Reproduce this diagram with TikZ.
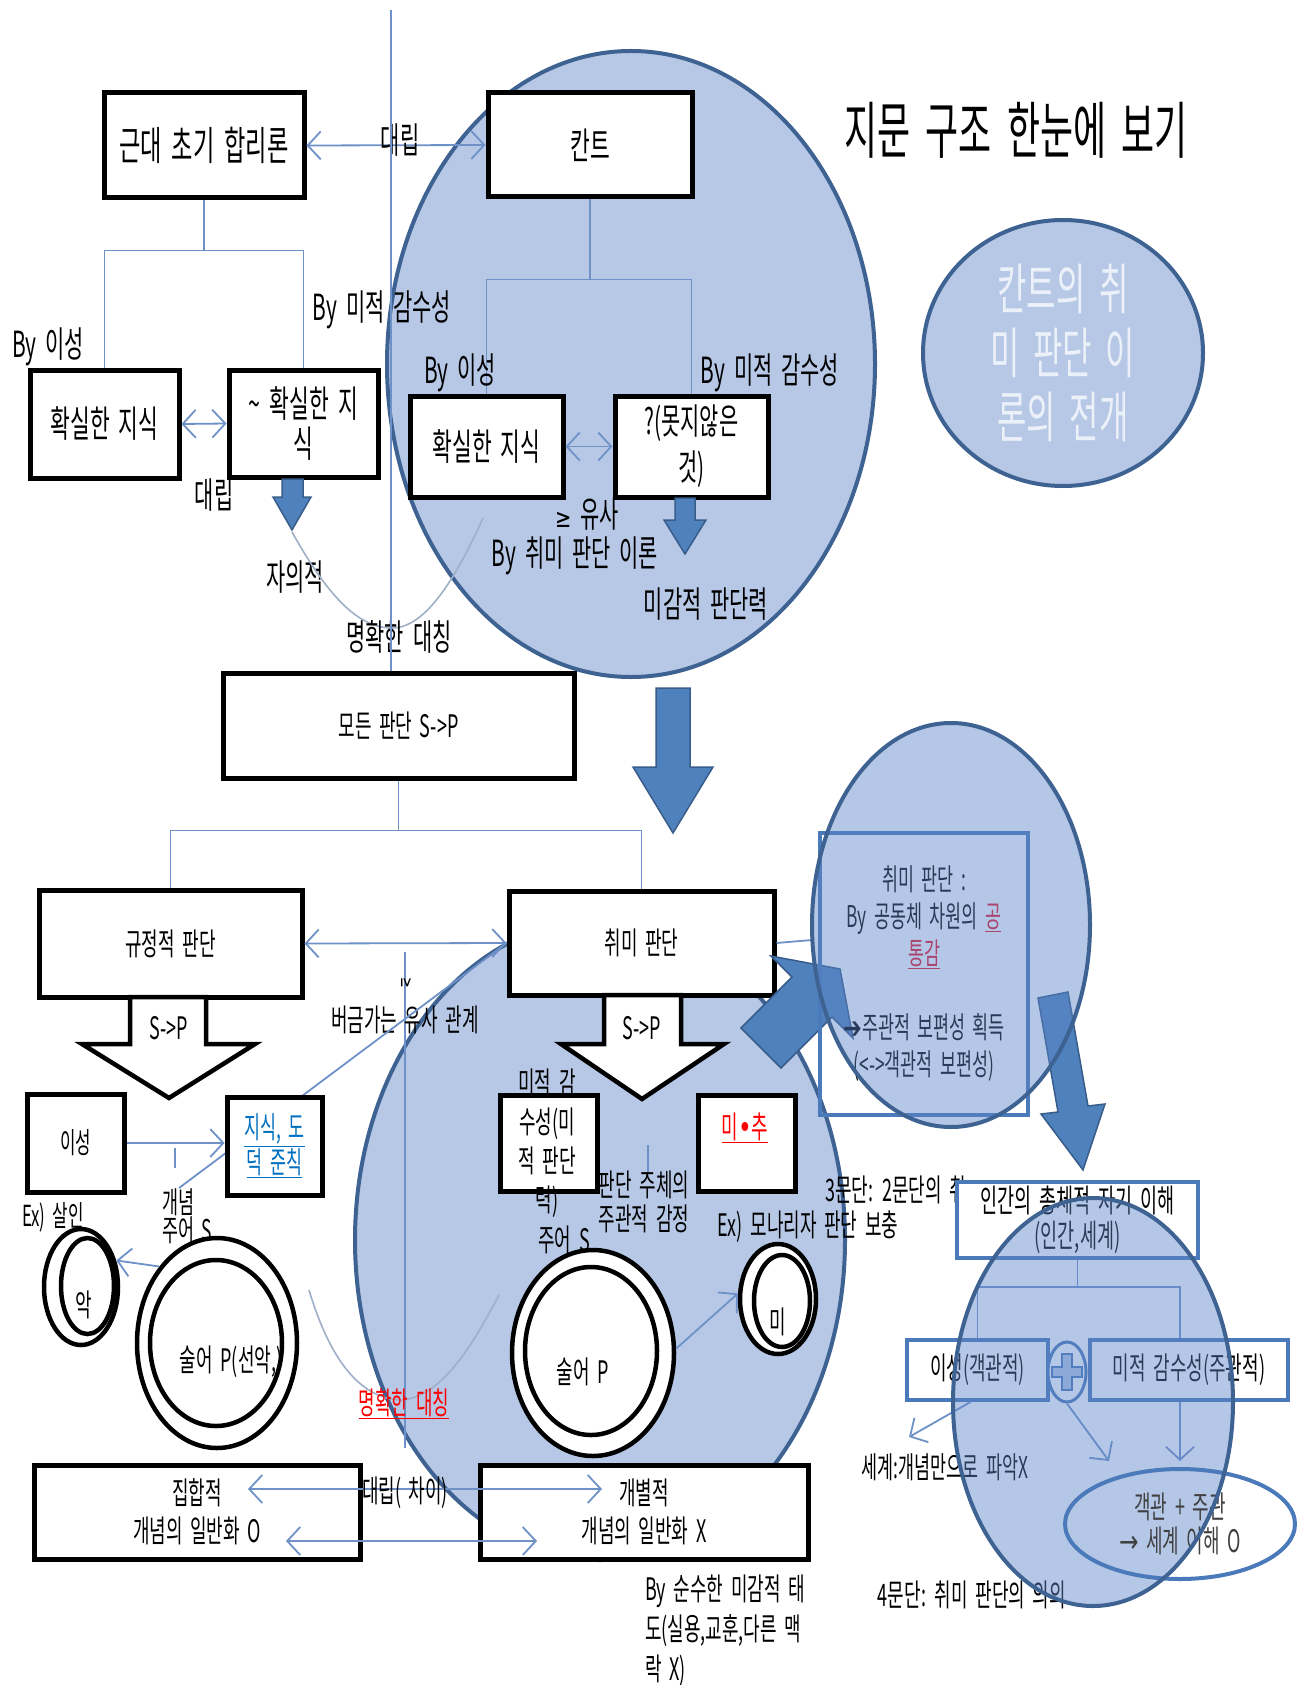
\documentclass[tikz,border=0pt]{standalone}
\usepackage{fontspec}
\setmainfont{Noto Sans CJK KR}[FakeStretch=0.58, WordSpace=1.9]
\newfontfamily\djv{DejaVu Sans}[FakeStretch=0.75]
\usetikzlibrary{arrows.meta,shapes.geometric,calc}
\definecolor{circfill}{RGB}{182,200,230}
\definecolor{circedge}{RGB}{62,98,146}
\definecolor{semifill}{RGB}{93,133,200}
\definecolor{lineblue}{RGB}{110,145,200}
\definecolor{curvegray}{RGB}{160,175,200}
\definecolor{boxblue}{RGB}{74,122,186}
\definecolor{arrfill}{RGB}{79,129,189}
\definecolor{arredge}{RGB}{56,93,138}
\definecolor{linkblue}{RGB}{0,112,192}
\definecolor{crim}{RGB}{230,20,40}
\definecolor{darkg}{RGB}{64,64,64}
\definecolor{whiteish}{RGB}{236,241,249}
\newcommand{\szT}{\fontsize{62}{72}\selectfont}
\newcommand{\szC}{\fontsize{55}{64}\selectfont}
\newcommand{\szB}{\fontsize{40}{44}\selectfont}
\newcommand{\szL}{\fontsize{36}{42}\selectfont}
\newcommand{\szM}{\fontsize{31}{38}\selectfont}
\begin{document}
\begin{tikzpicture}[x=1pt,y=-1pt,
  >={Straight Barb[length=13pt,width=28pt]},
  bbox/.style={draw=black, line width=5pt, fill=white, inner sep=0pt, align=center, font=\szM},
  bluebox/.style={draw=boxblue, line width=4pt, fill=white, inner sep=0pt, align=center, font=\szM},
  lbl/.style={inner sep=0pt, align=center, font=\szM},
  lblL/.style={inner sep=0pt, align=center, font=\szL},
  conn/.style={draw=lineblue, line width=1.8pt},
  curv/.style={draw=curvegray, line width=1.6pt},
  bigarrow/.style={fill=arrfill, draw=arredge, line width=1.5pt, line join=miter},
  blockarrow/.style={fill=white, draw=black, line width=4.5pt, line join=miter},
  bigcirc/.style={ellipse, draw=circedge, line width=4pt, fill=circfill, inner sep=0pt},
  ring/.style={ellipse, draw=black, line width=4.5pt, fill=white, inner sep=0pt},
  semicirc/.style={ellipse, fill=semifill, fill opacity=0.45, inner sep=0pt}]
\fill[white] (0,0) rectangle (1311,1685);
\useasboundingbox (0,0) rectangle (1311,1685);

% background circles
\node[bigcirc, minimum width=488pt, minimum height=626pt] (kantC) at (631,364) {};
\node[bigcirc, minimum width=490pt, minimum height=640pt] (chwiC) at (600,1240) {};

% title and theme circle
\node[font=\szT, inner sep=0pt] (title) at (1016,130) {지문 구조 한눈에 보기};
\node[bigcirc, minimum width=280pt, minimum height=266pt, text=whiteish, font=\szC, align=center] (themeC) at (1063,353) {칸트의 취\\미 판단 이\\론의 전개};

% top row
\node[bbox, font=\szB, minimum width=200pt, minimum height=105pt] (geun) at (204,145.5) {근대 초기 합리론};
\node[bbox, font=\fontsize{37}{42}\selectfont, minimum width=204pt, minimum height=104pt] (kant) at (590,145) {칸트};
\draw[conn,<->] (geun.east) -- (kant.west);
\node[lblL] (dl1) at (400,140) {대립};

% left subtree
\node[bbox, font=\fontsize{37}{42}\selectfont, minimum width=149pt, minimum height=108pt] (kl) at (104.5,424) {확실한 지식};
\node[bbox, font=\fontsize{37}{40}\selectfont, minimum width=149pt, minimum height=107pt] (kr) at (303.5,423.5) {\textasciitilde\ 확실한 지\\식};
\draw[conn] (geun.south) -- ++(0,50) coordinate (gj) -| (kl.north);
\draw[conn] (gj) -| (kr.north);
\draw[conn,<->] (kl.east) -- (kr.west);
\node[lblL] (by1) at (48,347) {By 이성};
\node[lblL] (by2) at (382,310) {By 미적 감수성};
\node[lblL] (dl2) at (214,495) {대립};
\draw[bigarrow] (282,479) -- (303,479) -- (303,497) -- (311,497) -- (292,530) -- (273,497) -- (282,497) -- cycle;
\node[lblL] (jaui) at (295,577) {자의적};
\draw[curv] (292,532) .. controls (330,600) and (360,628) .. (392,628) .. controls (425,628) and (455,580) .. (483,518);
\node[lblL] (mhd1) at (399,637) {명확한 대칭};

% Kant subtree
\node[bbox, font=\fontsize{37}{42}\selectfont, minimum width=153pt, minimum height=101pt] (ka) at (486.5,446.5) {확실한 지식};
\node[bbox, font=\fontsize{36}{46}\selectfont, minimum width=153pt, minimum height=101pt] (kb) at (691.5,446.5) {?(못지않은\\것)};
\draw[conn] (kant.south) -- ++(0,80) coordinate (kj) -| (ka.north);
\draw[conn] (kj) -| (kb.north);
\draw[conn,<->] (ka.east) -- (kb.west);
\node[lblL] (by3) at (460,373) {By 이성};
\node[lblL] (by4) at (770,373) {By 미적 감수성};
\node[lblL] (yusa) at (587,514) {{\djv\fontsize{26}{26}\selectfont ≥} 유사};
\node[lblL] (by5) at (575,556) {By 취미 판단 이론};
\node[lblL] (migam) at (706,604) {미감적 판단력};
\draw[bigarrow] (675,498) -- (695,498) -- (695,520) -- (706,520) -- (685,554) -- (664,520) -- (675,520) -- cycle;

% middle
\node[bbox, minimum width=351pt, minimum height=105pt] (modn) at (398.5,725.5) {모든 판단 S->P};
\coordinate (vtop) at (391,10);
\draw[conn] (vtop) -- (vtop |- modn.north);
\draw[bigarrow] (656,688) -- (690,688) -- (690,767) -- (713,767) -- (673,833) -- (633,767) -- (656,767) -- cycle;
\node[bbox, minimum width=263pt, minimum height=107pt] (gyu) at (170.5,943.5) {규정적 판단};
\node[bbox, minimum width=265pt, minimum height=104pt] (chwi) at (641.5,943) {취미 판단};
\draw[conn] (modn.south) -- ++(0,50) coordinate (mj) -| (gyu.north);
\draw[conn] (mj) -| (chwi.north);
\draw[conn,<->] (gyu.east) -- (chwi.west);
\coordinate (vl1) at (405,952);
\coordinate (vl2) at (405,1448);
\draw[conn] (vl1) -- (vl2);
\node[inner sep=0pt, rotate=-90, font=\djv\fontsize{17}{17}\selectfont] (geq) at (406,983) {≥};
\node[lbl] (beo) at (405,1020) {버금가는 유사 관계};
\coordinate (dg) at (179,1188);
\draw[conn] (dg) -- (chwi.west);

% block arrows
\draw[blockarrow] (130,997) -- (206,997) -- (206,1044) -- (255,1044) -- (169,1098) -- (82,1044) -- (130,1044) -- cycle;
\node[lbl] (sp1) at (169,1028) {S->P};
\draw[blockarrow] (604,995) -- (681,995) -- (681,1044) -- (724,1044) -- (642,1099) -- (561,1044) -- (604,1044) -- cycle;
\node[lbl] (sp2) at (642,1028) {S->P};

% lower left
\node[bbox, font=\fontsize{29}{34}\selectfont, minimum width=97pt, minimum height=98pt] (ise) at (75.5,1143) {이성};
\node[bbox, font=\fontsize{30}{35}\selectfont, minimum width=95pt, minimum height=98pt] (jisik) at (274.5,1146) {\textcolor{linkblue}{\underline{지식, 도}}\\\textcolor{linkblue}{\underline{덕 준칙}}};
\draw[conn,->] (ise.east) -- (jisik.west |- ise.east);
\coordinate (tk1) at (175,1148);
\coordinate (tk2) at (175,1168);
\draw[conn] (tk1) -- (tk2);
\node[lbl, align=left, anchor=west, font=\fontsize{30}{24}\selectfont] (gn) at (162,1216) {개념\\주어 S};
\node[lbl, font=\fontsize{29}{30}\selectfont] (exs) at (53,1217) {Ex) 살인};
\node[ring, minimum width=74pt, minimum height=116pt] (akO) at (81,1287) {};
\node[ring, minimum width=53pt, minimum height=96pt] (akI) at (87.5,1286) {};
\node[lbl] (ak) at (84,1305) {악};
\node[ring, minimum width=160pt, minimum height=210pt] (sulLO) at (217,1343) {};
\node[ring, minimum width=132pt, minimum height=166pt] (sulLI) at (216,1343) {};
\node[lbl] (sulLt) at (231,1362) {술어 P(선악,)};
\draw[conn,->] (sulLO.127) -- (akO.37);
\draw[curv] (309,1290) .. controls (330,1360) and (360,1398) .. (400,1400) .. controls (440,1398) and (470,1350) .. (499,1295);
\node[lbl] (mhd2) at (404,1404) {\textcolor{red}{\underline{명확한 대칭}}};

% lower middle
\node[bbox, minimum width=97pt, minimum height=96pt] (mjb) at (548.5,1143) {};
\node[lbl, font=\fontsize{31}{39}\selectfont] (mjt) at (547,1143) {미적 감\\수성(미\\적 판단\\력)};
\node[lbl] (jus1) at (564,1240) {주어 S};
\node[lbl, font=\fontsize{31}{34}\selectfont] (pdj) at (644,1202) {판단 주체의\\주관적 감정};
\coordinate (tk3) at (648,1145);
\coordinate (tk4) at (648,1172);
\draw[conn] (tk3) -- (tk4);
\node[bbox, minimum width=97pt, minimum height=96pt] (michu) at (746.5,1143) {};
\node[lbl] (michut) at (745,1128) {\textcolor{red}{\underline{미{\djv •}추}}};
\node[ring, minimum width=162pt, minimum height=206pt] (sulRO) at (593,1353) {};
\node[ring, minimum width=132pt, minimum height=168pt] (sulRI) at (591,1351) {};
\node[lbl] (sulRt) at (583,1372) {술어 P};
\node[ring, minimum width=76pt, minimum height=110pt] (miO) at (778,1299) {};
\node[ring, minimum width=56pt, minimum height=92pt] (miI) at (782,1301) {};
\node[lbl] (mit) at (778,1322) {미};
\draw[conn,->] (sulRO.3) -- (miO.172);
\node[lbl] (mona) at (808,1227) {Ex) 모나리자 판단 보충};
\node[lbl, anchor=west] (p3) at (825,1190) {3문단: 2문단의 취};

% bottom boxes
\node[bbox, minimum width=326pt, minimum height=94pt] (jiphap) at (197,1512) {집합적\\개념의 일반화 O};
\node[bbox, minimum width=328pt, minimum height=94pt] (gaeb) at (644,1512) {개별적\\개념의 일반화 X};
\coordinate (a1l) at (248,1489);
\coordinate (a1r) at (602,1489);
\coordinate (a2l) at (286,1541);
\coordinate (a2r) at (537,1541);
\draw[conn,<->] (a1l) -- (a1r);
\draw[conn,<->] (a2l) -- (a2r);
\node[lbl] (dl3) at (405,1493) {대립( 차이)};
\node[lbl, align=left, anchor=west, font=\fontsize{31}{40}\selectfont] (bysun) at (645,1631) {By 순수한 미감적 태\\도(실용,교훈,다른 맥\\락 X)};

% upper right group
\draw[bigarrow] (741,1028) -- (792,977) -- (771,956) -- (840,969) -- (853,1038) -- (832,1017) -- (781,1068) -- cycle;
\coordinate (urIn) at (812,940);
\draw[conn] (chwi.east) -- (urIn);
\node[draw=boxblue, line width=4pt, inner sep=0pt, minimum width=208pt, minimum height=282pt, align=center, font=\fontsize{30}{37}\selectfont] (urb) at (924,974) {취미 판단 :\\By 공동체 차원의 \textcolor{crim}{\underline{공}}\\\textcolor{crim}{\underline{통감}}\\[37pt]{\djv ➔}주관적 보편성 획득\\(<->객관적 보편성)};
\draw[bigarrow] (1038,998) -- (1068,992) -- (1088,1106) -- (1105,1104) -- (1083,1170) -- (1041,1114) -- (1058,1112) -- cycle;
\node[semicirc, draw=circedge, draw opacity=1, line width=4pt, minimum width=278pt, minimum height=404pt] (urC) at (951,925) {};

% lower right group
\node[bluebox, font=\fontsize{32}{35}\selectfont, minimum width=241pt, minimum height=76pt] (ingan) at (1077.5,1220) {인간의 총체적 자기 이해\\(인간,세계)};
\node[bluebox, minimum width=141pt, minimum height=60pt] (is2) at (977.5,1370) {이성(객관적)};
\node[bluebox, minimum width=198pt, minimum height=60pt] (mj2) at (1189,1370) {미적 감수성(주관적)};
\draw[conn] (ingan.south) -- ++(0,27) coordinate (ij) -| (is2.north);
\draw[conn] (ij) -| ($(mj2.north)+(-9,0)$);
\node[ellipse, draw=boxblue, line width=3pt, fill=white, inner sep=0pt, minimum width=38pt, minimum height=60pt] (plus) at (1067,1372) {};
\draw[fill=circfill, draw=boxblue, line width=2pt] (1062,1354) -- (1072,1354) -- (1072,1367) -- (1082,1367) -- (1082,1377) -- (1072,1377) -- (1072,1390) -- (1062,1390) -- (1062,1377) -- (1052,1377) -- (1052,1367) -- (1062,1367) -- cycle;
\coordinate (e1) at (1109,1461);
\coordinate (e2) at (1180,1461);
\coordinate (w1) at (909,1437);
\draw[conn,->] (plus.south) -- (e1);
\draw[conn,->] ($(mj2.south)+(-9,0)$) -- (e2);
\draw[conn,->] ($(is2.south)+(-7,0)$) -- (w1);
\node[lbl, font=\fontsize{30}{34}\selectfont] (segye) at (945,1467) {세계:개념만으로 파악X};
\node[lbl] (p4) at (972,1595) {4문단: 취미 판단의 의의};
\node[semicirc, draw=none, minimum width=280pt, minimum height=408pt] (lrC) at (1093,1402) {};
\node[ellipse, draw=boxblue, line width=4pt, inner sep=0pt, minimum width=230pt, minimum height=110pt, align=center, font=\fontsize{31}{34}\selectfont, text=darkg] (ell) at (1180,1524) {객관 + 주관\\{\djv →} 세계 이해 O};
\node[ellipse, draw=circedge, line width=4pt, inner sep=0pt, minimum width=280pt, minimum height=408pt] (lrCb) at (lrC) {};
\end{tikzpicture}
\end{document}
